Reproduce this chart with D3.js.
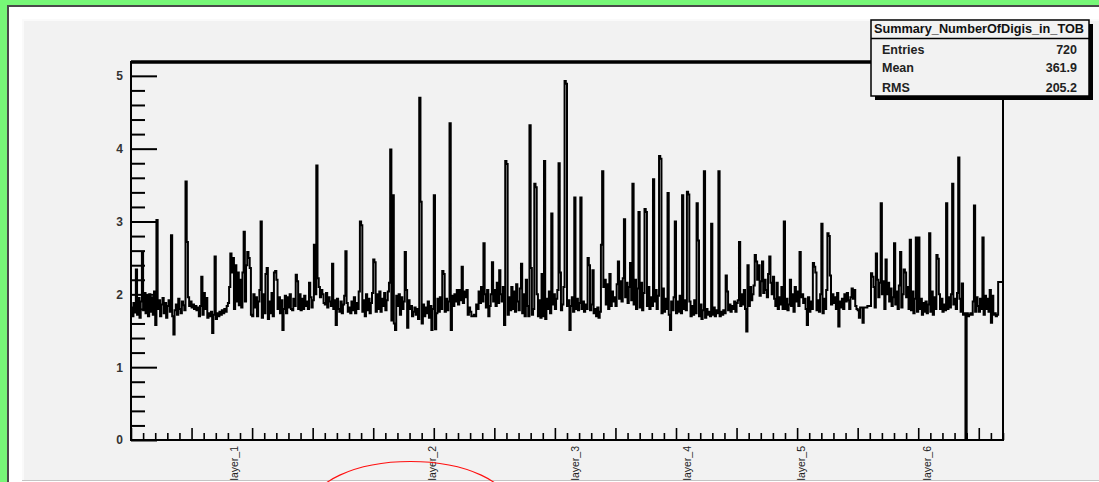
<!DOCTYPE html>
<html>
<head>
<meta charset="utf-8">
<script src="https://cdn.jsdelivr.net/npm/d3@7"></script>
<style>
  body { margin: 0; background: #77f777; }
  svg { display: block; }
</style>
</head>
<body>
<svg id="canvas" width="1099" height="482"></svg>
<script>
// bin contents, 720 bins
var counts = [
  1.82,1.70,1.88,1.75,2.34,1.72,1.95,1.68,1.90,2.58,1.78,2.02,1.74,1.98,1.70,2.00,1.76,1.96,1.72,2.04,
  1.58,3.02,1.80,1.92,1.70,1.86,1.95,1.74,1.88,1.68,1.84,1.92,1.76,2.81,1.70,1.45,1.78,1.86,1.72,1.94,
  1.80,1.74,1.90,1.85,1.78,3.55,2.72,1.96,1.84,1.90,1.82,1.86,1.80,1.84,1.78,1.82,1.70,1.84,2.24,1.72,
  2.02,1.80,1.95,1.68,1.74,1.70,1.76,1.47,1.72,2.52,1.66,1.74,1.70,1.76,1.72,1.78,1.74,1.80,1.76,1.84,
  1.88,2.10,2.56,2.30,2.50,1.80,2.40,1.90,2.30,1.85,2.20,1.82,2.30,2.86,1.90,2.40,2.58,2.50,2.36,1.72,
  1.70,2.00,1.82,1.96,1.70,1.90,2.06,3.00,1.68,2.00,1.74,2.28,2.36,1.66,1.90,1.74,2.02,1.70,2.30,2.32,
  2.20,1.80,1.96,1.74,1.92,1.51,1.80,1.98,1.74,1.96,1.82,2.00,1.80,1.78,1.94,1.84,2.27,2.18,1.80,2.00,
  1.78,1.94,1.80,1.98,1.84,1.90,1.80,2.16,1.96,1.82,1.92,2.68,2.00,3.77,2.22,2.10,1.96,2.06,2.00,1.88,
  1.86,2.02,1.82,1.96,1.90,1.84,2.42,1.80,1.92,1.58,1.94,1.80,1.76,1.90,1.74,1.86,1.98,2.59,1.88,1.76,
  1.82,1.74,1.90,1.78,1.96,1.74,1.88,1.80,2.04,3.00,2.95,1.76,1.92,1.70,2.00,1.78,1.94,1.74,1.88,2.02,
  2.48,2.44,1.76,2.00,1.80,2.04,1.76,1.94,1.84,2.02,1.78,1.92,2.04,2.16,3.99,1.64,3.36,1.60,1.51,1.98,
  1.84,2.00,1.72,1.96,1.80,1.90,2.58,2.06,1.54,1.92,1.80,1.84,1.70,1.76,1.82,1.72,1.80,1.66,4.70,3.27,
  1.60,1.86,1.70,1.82,1.74,1.90,1.68,1.84,1.51,1.80,3.36,1.52,1.74,1.94,1.76,1.96,1.80,2.32,2.28,1.76,
  1.94,1.78,1.90,4.35,1.51,1.98,1.84,2.00,1.90,2.06,1.86,2.06,1.92,2.38,1.88,2.04,1.96,2.06,1.72,1.82,
  1.76,1.70,1.70,1.72,1.70,1.86,1.80,2.04,1.88,2.10,1.90,2.70,2.00,1.82,2.06,1.70,1.84,2.00,2.44,1.90,
  2.06,1.84,2.16,1.88,2.33,2.00,1.90,2.10,1.58,3.83,3.79,1.72,1.96,1.78,2.10,1.80,2.04,1.76,2.14,1.90,
  1.78,2.08,2.42,1.74,2.00,1.70,2.20,1.84,1.70,4.32,2.36,1.72,1.80,3.52,3.47,2.00,1.70,1.92,1.68,2.28,
  1.70,3.83,1.66,1.94,1.80,2.04,1.74,3.11,1.86,2.00,1.80,1.94,2.06,3.80,2.30,1.78,1.86,2.10,4.93,4.89,
  1.84,1.92,1.51,1.84,1.96,1.76,3.33,1.80,1.94,1.78,1.88,3.33,1.80,1.90,1.76,1.86,1.80,2.50,2.40,1.78,
  1.86,2.33,1.74,1.80,1.70,1.82,1.68,1.76,2.68,3.69,2.10,2.20,1.86,2.14,1.80,2.28,1.84,2.04,1.90,1.96,
  1.84,2.14,2.45,1.94,2.18,1.90,2.22,3.03,1.96,2.16,1.88,2.10,2.43,1.92,3.52,1.86,2.20,1.80,2.08,3.13,
  1.82,2.16,1.78,2.02,3.17,3.13,1.84,2.10,1.80,1.96,1.84,3.58,1.90,2.06,1.80,1.98,3.90,3.86,1.74,2.08,
  1.76,1.94,1.80,3.39,1.72,1.51,1.90,1.78,1.96,3.00,1.74,1.90,1.76,1.98,1.74,3.36,1.80,1.92,1.78,3.41,
  3.37,1.90,1.70,1.84,1.72,1.92,1.74,3.25,2.74,1.70,1.86,1.66,1.78,3.69,1.68,1.80,1.72,1.76,1.70,2.97,
  1.72,1.82,1.70,1.78,1.74,3.69,1.70,1.76,1.72,1.78,1.74,2.26,2.04,1.78,1.86,1.76,1.84,1.80,1.90,1.76,
  1.88,1.92,2.72,1.84,2.00,1.86,2.06,1.80,1.49,2.40,1.84,2.10,1.92,2.00,2.12,2.54,2.45,2.20,2.40,1.98,
  2.18,2.45,2.02,2.20,2.06,1.96,2.28,2.52,2.16,2.00,2.24,1.94,1.84,2.16,1.80,1.96,1.86,2.10,1.80,3.00,
  1.80,1.94,1.78,1.86,2.20,1.84,2.00,1.76,2.10,1.90,2.04,1.84,2.58,1.96,2.00,1.88,1.94,1.80,1.58,1.96,
  1.76,1.90,1.80,2.43,2.38,2.30,1.78,1.92,1.76,2.00,2.97,1.74,1.94,1.80,2.06,2.84,2.80,2.26,1.86,2.00,
  1.88,1.96,1.80,2.02,1.56,1.90,1.82,1.94,1.80,2.00,1.90,2.02,1.92,1.80,1.96,2.08,1.94,2.06,1.84,1.80,
  1.78,1.68,1.82,1.82,1.61,1.82,1.82,1.82,1.84,1.84,1.84,2.29,2.24,2.10,1.82,2.56,2.20,1.96,2.16,3.25,
  2.00,2.18,1.80,2.48,2.00,2.16,1.90,2.08,1.84,1.96,2.70,1.86,2.04,1.80,2.12,2.58,1.82,2.00,2.34,2.30,
  1.96,2.10,1.80,2.75,1.78,2.04,1.74,1.94,2.78,1.76,2.78,1.80,1.94,1.72,1.88,1.76,1.90,1.74,1.86,2.84,
  1.76,2.04,1.72,1.96,1.80,2.54,2.49,2.00,1.80,1.94,1.76,1.86,1.78,3.25,1.80,1.96,1.82,2.00,3.52,1.86,
  1.94,1.80,2.02,3.88,1.94,1.76,2.15,1.72,1.74,0.00,1.74,1.70,1.72,1.74,1.72,1.90,3.22,1.76,1.96,1.84,
  1.76,1.94,1.80,2.78,1.72,1.98,1.80,1.94,1.76,2.06,1.61,1.98,1.72,1.74,1.70,1.72,2.17,2.17,2.17,2.17
];
if (counts.length !== 720) throw new Error("counts has " + counts.length + " bins");

// alphanumeric bin labels on the x axis
var labelBins = [85, 248, 366, 459, 553, 657];
var labelNames = ["layer_1", "layer_2", "layer_3", "layer_4", "layer_5", "layer_6"];

var yMajor = [0, 1, 2, 3, 4, 5];

// stats box
var histTitle = "Summary_NumberOfDigis_in_TOB";
var statNames = ["Entries", "Mean", "RMS"];
var statValues = ["720", "361.9", "205.2"];

var svg = d3.select("#canvas");
var font = "'Liberation Sans', Arial, sans-serif";

// canvas background: green border, white margin, grey pad
svg.append("rect").attr("x", 0).attr("y", 0).attr("width", 1099).attr("height", 482).attr("fill", "#77f777");
svg.append("rect").attr("x", 7).attr("y", 5).attr("width", 1100).attr("height", 490).attr("fill", "#4a4a4a");
svg.append("rect").attr("x", 9).attr("y", 7).attr("width", 1100).attr("height", 490).attr("fill", "#ffffff");
svg.append("rect").attr("x", 22).attr("y", 19).attr("width", 1100).attr("height", 462).attr("fill", "#fafafa");
svg.append("rect").attr("x", 24).attr("y", 21).attr("width", 1100).attr("height", 459).attr("fill", "#f2f2f2");
svg.append("line").attr("x1", 22).attr("x2", 1099).attr("y1", 480.5).attr("y2", 480.5)
   .attr("stroke", "#c4c4c4").attr("stroke-width", 1);

var x = d3.scaleLinear().domain([0, counts.length]).range([131, 1003]);
var y = d3.scaleLinear().domain([0, 5.19]).range([440, 62]);

// histogram outline
var pts = [];
counts.forEach(function(v, i) {
  pts.push([i, v]);
  pts.push([i + 1, v]);
});
var line = d3.line().x(function(d) { return x(d[0]); }).y(function(d) { return y(d[1]); });
svg.append("path")
   .attr("d", line(pts))
   .attr("fill", "none")
   .attr("stroke", "#000")
   .attr("stroke-width", 2)
   .attr("stroke-linejoin", "miter");

// y axis ticks (drawn inside the frame)
var yMinor = d3.range(0, 5.19, 0.2).filter(function(v) { return Math.abs(v - Math.round(v)) > 0.01; });
var yAxisMinor = svg.append("g").attr("transform", "translate(131,0)")
   .call(d3.axisLeft(y).tickValues(yMinor).tickSize(-14).tickFormat(""));
var yAxisMajor = svg.append("g").attr("transform", "translate(131,0)")
   .call(d3.axisLeft(y).tickValues(yMajor).tickSize(-26).tickPadding(8).tickFormat(d3.format("d")));
[yAxisMinor, yAxisMajor].forEach(function(g) {
  g.select(".domain").remove();
  g.selectAll(".tick line").attr("stroke", "#000").attr("stroke-width", 2);
});
yAxisMajor.selectAll(".tick text")
   .attr("font-family", font).attr("font-size", 12).attr("font-weight", "bold").attr("fill", "#333");

// x axis ticks, every 10 bins, taller every 50
var xSmall = d3.range(0, 721, 10).filter(function(v) { return v % 50 !== 0; });
var xTall = d3.range(0, 721, 50);
var xAxisSmall = svg.append("g").attr("transform", "translate(0,440)")
   .call(d3.axisBottom(x).tickValues(xSmall).tickSize(-7).tickFormat(""));
var xAxisTall = svg.append("g").attr("transform", "translate(0,440)")
   .call(d3.axisBottom(x).tickValues(xTall).tickSize(-12).tickFormat(""));
[xAxisSmall, xAxisTall].forEach(function(g) {
  g.select(".domain").remove();
  g.selectAll(".tick line").attr("stroke", "#000").attr("stroke-width", 1.6);
});

// bin labels, vertical
svg.selectAll(".binlabel").data(labelBins).enter().append("text")
   .attr("class", "binlabel")
   .attr("transform", function(d) { return "translate(" + x(d + 0.5) + ",446) rotate(-90)"; })
   .attr("text-anchor", "end")
   .attr("dy", "0.35em")
   .attr("font-family", font)
   .attr("font-size", 10.5)
   .attr("fill", "#222")
   .text(function(d, i) { return labelNames[i]; });

// frame
svg.append("rect").attr("x", 131).attr("y", 62).attr("width", 872).attr("height", 378)
   .attr("fill", "none").attr("stroke", "#000").attr("stroke-width", 2);
svg.append("line").attr("x1", 131).attr("x2", 1003).attr("y1", 62).attr("y2", 62)
   .attr("stroke", "#000").attr("stroke-width", 3.5);

// stats box
var bx = 871, by = 20, bw = 218, bh = 76;
svg.append("rect").attr("x", bx + 4).attr("y", by + 4).attr("width", bw).attr("height", bh).attr("fill", "#000");
svg.append("rect").attr("x", bx).attr("y", by).attr("width", bw).attr("height", bh)
   .attr("fill", "#f2f2f2").attr("stroke", "#000").attr("stroke-width", 1.5);
svg.append("line").attr("x1", bx).attr("x2", bx + bw).attr("y1", 38.5).attr("y2", 38.5)
   .attr("stroke", "#000").attr("stroke-width", 1.5);
svg.append("text").attr("x", bx + 3).attr("y", 33)
   .attr("textLength", 210).attr("lengthAdjust", "spacingAndGlyphs")
   .attr("font-family", font).attr("font-size", 12.5).attr("font-weight", "bold").attr("fill", "#111")
   .text(histTitle);
var rowY = [54, 72, 92];
statNames.forEach(function(n, i) {
  svg.append("text").attr("x", 882).attr("y", rowY[i])
     .attr("font-family", font).attr("font-size", 12.5).attr("font-weight", "bold").attr("fill", "#222")
     .text(n);
  svg.append("text").attr("x", 1077).attr("y", rowY[i]).attr("text-anchor", "end")
     .attr("font-family", font).attr("font-size", 12.5).attr("font-weight", "bold").attr("fill", "#222")
     .text(statValues[i]);
});

// red annotation ring round layer_2
svg.append("ellipse").attr("cx", 410.5).attr("cy", 508).attr("rx", 100).attr("ry", 46.5)
   .attr("fill", "none").attr("stroke", "#ff1010").attr("stroke-width", 1.2);
</script>
</body>
</html>
